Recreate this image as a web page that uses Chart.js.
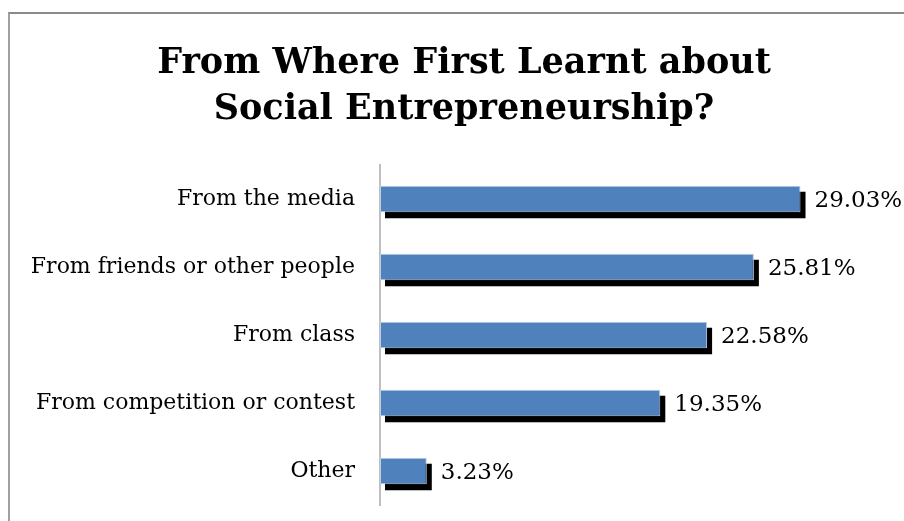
<!DOCTYPE html>
<html>
<head>
<meta charset="utf-8">
<script src="https://cdn.jsdelivr.net/npm/chart.js@4"></script>
<style>
  html, body { margin: 0; padding: 0; background: #fff; }
  #wrap { position: absolute; left: 0; top: 0; width: 904px; height: 521px; overflow: hidden; }
  #frame { position: absolute; left: 8px; top: 12px; width: 1000px; height: 600px;
           border-top: 2px solid #8a8a8a; border-left: 2px solid #a0a0a0; }
  canvas { position: absolute; left: 0; top: 0; }
</style>
</head>
<body>
<div id="wrap">
  <div id="frame"></div>
  <!-- chart box runs a bit past the right edge of the window -->
  <canvas id="myChart" width="928" height="521"></canvas>
</div>
<script>
var categories = ['From the media', 'From friends or other people', 'From class', 'From competition or contest', 'Other'];
var shares = [29.03, 25.81, 22.58, 19.35, 3.23];
var titleLines = ['From Where First Learnt about', 'Social Entrepreneurship?'];

var serif = "'DejaVu Serif', 'Liberation Serif', serif";

// two-line bold heading, centred on the whole chart box
var heading = {
  id: 'heading',
  afterDraw: function (chart) {
    var ctx = chart.ctx;
    ctx.save();
    ctx.font = 'bold 35px ' + serif;
    ctx.fillStyle = '#000';
    ctx.textAlign = 'center';
    ctx.textBaseline = 'middle';
    titleLines.forEach(function (line, i) {
      ctx.fillText(line, chart.width / 2, 64 + i * 46.2);
    });
    ctx.restore();
  }
};

// solid black shadow offset down/right behind each bar
var barShadow = {
  id: 'barShadow',
  beforeDatasetsDraw: function (chart) {
    var ctx = chart.ctx;
    var meta = chart.getDatasetMeta(0);
    ctx.save();
    ctx.fillStyle = '#000';
    meta.data.forEach(function (bar) {
      var h = bar.height;
      ctx.fillRect(bar.base + 5, bar.y - h / 2 + 6, bar.x - bar.base, h);
    });
    ctx.restore();
  }
};

// percent text just right of every bar
var valueLabels = {
  id: 'valueLabels',
  afterDatasetsDraw: function (chart) {
    var ctx = chart.ctx;
    var meta = chart.getDatasetMeta(0);
    ctx.save();
    ctx.font = '23px ' + serif;
    ctx.fillStyle = '#000';
    ctx.textAlign = 'left';
    ctx.textBaseline = 'middle';
    meta.data.forEach(function (bar, i) {
      ctx.fillText(shares[i].toFixed(2) + '%', bar.x + 14, bar.y + 2);
    });
    ctx.restore();
  }
};

var ctx = document.getElementById('myChart').getContext('2d');
var chart = new Chart(ctx, {
  type: 'bar',
  data: {
    labels: categories,
    datasets: [{
      data: shares,
      backgroundColor: '#4f81bd',
      borderColor: '#b9cde5',
      borderWidth: 1,
      borderSkipped: false,
      barPercentage: 0.39,
      categoryPercentage: 1
    }]
  },
  options: {
    indexAxis: 'y',
    responsive: false,
    animation: false,
    layout: { padding: { top: 165, right: 41, bottom: 16, left: 0 } },
    plugins: {
      legend: { display: false },
      tooltip: { enabled: false },
      title: { display: false }
    },
    scales: {
      x: { display: false, min: 0, max: 35 },
      y: {
        grid: { display: false },
        border: { display: true, color: '#bfbfbf', width: 2 },
        ticks: { color: '#000', padding: 17, font: { family: serif, size: 22 } },
        afterFit: function (scale) {
          scale.width = 380;
          scale.paddingTop = 0;
          scale.paddingBottom = 0;
        }
      }
    }
  },
  plugins: [heading, barShadow, valueLabels]
});
</script>
</body>
</html>
